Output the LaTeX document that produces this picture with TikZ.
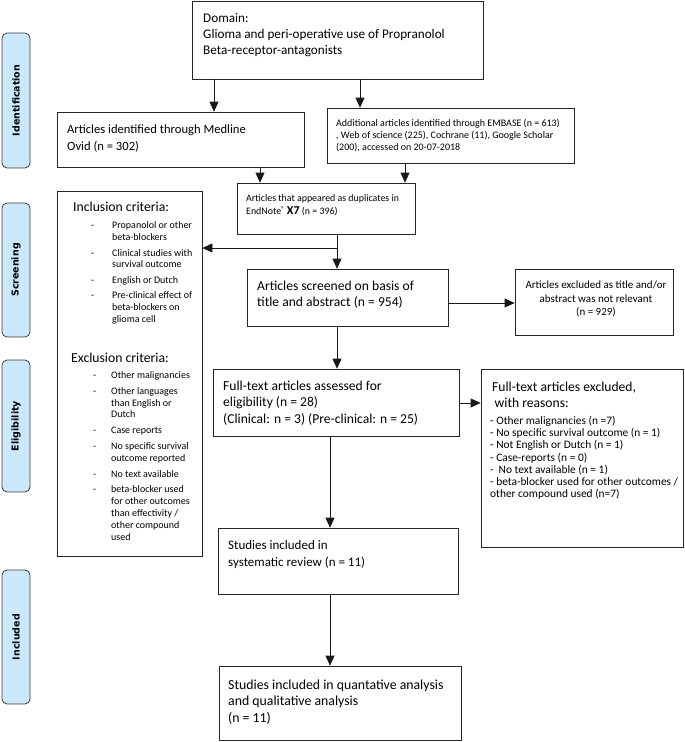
\documentclass[tikz,border=0pt]{standalone}
\usepackage{fontspec}
\setmainfont{Carlito}
\newfontfamily\labelfont{DejaVu Sans}
\usetikzlibrary{arrows.meta}
\definecolor{lblue}{RGB}{204,232,252}
\definecolor{lborder}{RGB}{60,60,60}
\begin{document}
\begin{tikzpicture}[x=1pt,y=-1pt,
  box/.style={draw=black!85, line width=0.7pt, inner sep=0, rectangle},
  lbl/.style={draw=lborder, fill=lblue, line width=0.8pt, rounded corners=5pt, rotate=90, inner sep=0,
    minimum height=28pt, font=\labelfont\bfseries\fontsize{9.5}{11}\selectfont},
  tx/.style={anchor=north west, inner sep=0, align=left},
  arr/.style={draw=black!90, line width=0.7pt, -{Triangle[length=10pt,width=9pt]}}
]
\useasboundingbox (0,0) rectangle (685,742);

% stage labels
\node[lbl, minimum width=135pt] (l1) at (16,100.5) {Identification};
\node[lbl, minimum width=134pt] (l2) at (16,270) {Screening};
\node[lbl, minimum width=132pt] (l3) at (16,426) {Eligibility};
\node[lbl, minimum width=134pt] (l4) at (16,637) {Included};

% boxes
\node[box, minimum width=291pt, minimum height=78pt] (dom) at (337.5,40) {};
\node[box, minimum width=247pt, minimum height=55pt] (med) at (180.5,139.5) {};
\node[box, minimum width=247pt, minimum height=55pt] (add) at (450.5,135.5) {};
\node[box, minimum width=178pt, minimum height=51pt] (dup) at (326,208.5) {};
\node[box, minimum width=145pt, minimum height=365pt] (inc) at (129.5,373.5) {};
\node[box, minimum width=201pt, minimum height=57pt] (scr) at (347.5,297.5) {};
\node[box, minimum width=158pt, minimum height=66pt] (ext) at (594,302) {};
\node[box, minimum width=246pt, minimum height=67pt] (ft) at (336,402.5) {};
\node[box, minimum width=202pt, minimum height=178pt] (fte) at (582,458) {};
\draw[line width=1.3pt, black!85] (fte.north east) -- (fte.south east);
\node[box, minimum width=240pt, minimum height=66pt] (sr) at (338,561) {};
\node[box, minimum width=242pt, minimum height=74pt] (qa) at (340,703) {};

% texts
\node[tx, font=\fontsize{13.2}{16}\selectfont] (tdom) at (203,12.8) {Domain:\\Glioma and peri-operative use of Propranolol\\Beta-receptor-antagonists};
\node[tx, font=\fontsize{12.6}{17}\selectfont] (tmed) at (67,124.1) {Articles identified through Medline\\Ovid (n = 302)};
\node[tx, font=\fontsize{10}{12}\selectfont] (tadd) at (336,119.3) {Additional articles identified through EMBASE (n = 613)\\, Web of science (225), Cochrane (11), Google Scholar\\(200), accessed on 20-07-2018};
\node[tx, font=\fontsize{9.9}{13}\selectfont] (tdup) at (246,194.3) {Articles that appeared as duplicates in\\EndNote{\fontsize{7}{7}\selectfont\raisebox{2.5pt}{®}} {\fontsize{12}{13}\selectfont\bfseries X7} (n = 396)};

\node[tx, font=\fontsize{13.7}{16}\selectfont] (tinc) at (73,201.6) {Inclusion criteria:};
\node[tx, font=\fontsize{10}{11.8}\selectfont] (tincl) at (91,220) {\renewcommand{\arraystretch}{1}%
\begin{tabular}{@{}p{21pt}@{}l@{}}
- & Propanolol or other\\
  & beta-blockers\\[4pt]
- & Clinical studies with\\
  & survival outcome\\[4pt]
- & English or Dutch\\[3.5pt]
- & Pre-clinical effect of\\
  & beta-blockers on\\
  & glioma cell
\end{tabular}};
\node[tx, font=\fontsize{13.7}{16}\selectfont] (texc) at (71,352.6) {Exclusion criteria:};
\node[tx, font=\fontsize{10}{11.8}\selectfont] (texcl) at (93,370) {\renewcommand{\arraystretch}{1}%
\begin{tabular}{@{}p{18pt}@{}l@{}}
- & Other malignancies\\[4pt]
- & Other languages\\
  & than English or\\
  & Dutch\\[4pt]
- & Case reports\\[4pt]
- & No specific survival\\
  & outcome reported\\[4pt]
- & No text available\\[4pt]
- & beta-blocker used\\
  & for other outcomes\\
  & than effectivity /\\
  & other compound\\
  & used
\end{tabular}};

\node[tx, font=\fontsize{13.6}{16}\selectfont] (tscr) at (257,280.6) {Articles screened on basis of\\title and abstract (n = 954)};
\node[anchor=north, inner sep=0, align=center, font=\fontsize{11}{13.5}\selectfont] (text) at (596,280.8) {Articles excluded as title and/or\\abstract was not relevant\\(n = 929)};
\node[tx, font=\fontsize{13.6}{16.5}\selectfont] (tft) at (223,380.6) {Full-text articles assessed for\\eligibility (n = 28)\\(Clinical: n = 3) (Pre-clinical: n = 25)};
\node[tx, font=\fontsize{13.6}{16}\selectfont] (tfte) at (492,381.6) {Full-text articles excluded,\\\hspace{2.5pt}with reasons:};
\node[tx, font=\fontsize{11.4}{12.2}\selectfont] (tftel) at (490,416) {- Other malignancies (n =7)\\- No specific survival outcome (n = 1)\\- Not English or Dutch (n = 1)\\- Case-reports (n = 0)\\-\hspace{5pt}No text available (n = 1)\\- beta-blocker used for other outcomes /\\other compound used (n=7)};
\node[tx, font=\fontsize{13}{17}\selectfont] (tsr) at (228,539.9) {Studies included in\\systematic review (n = 11)};
\node[tx, font=\fontsize{13.8}{16.5}\selectfont] (tqa) at (228,679.5) {Studies included in quantative analysis\\and qualitative analysis\\(n = 11)};

% connectors
\draw[arr] (dom.south -| 214,0) -- (med.north -| 214,0);
\draw[arr] (dom.south -| 360,0) -- (add.north -| 360,0);
\draw[arr] (med.south -| 260,0) -- (dup.north -| 260,0);
\draw[arr] (add.south -| 405,0) -- (dup.north -| 405,0);
\coordinate (br) at (337,248);
\draw[arr] (dup.south -| br) -- (scr.north -| br);
\draw[arr] (br) -- (inc.east |- br);
\draw[arr] (scr.east |- 0,303) -- (ext.west |- 0,303);
\draw[arr] (scr.south -| br) -- (ft.north -| br);
\draw[arr] (ft.east |- 0,403) -- (fte.west |- 0,403);
\draw[arr] (ft.south -| 330,0) -- (sr.north -| 330,0);
\draw[arr] (sr.south -| 330,0) -- (qa.north -| 330,0);
\end{tikzpicture}
\end{document}
